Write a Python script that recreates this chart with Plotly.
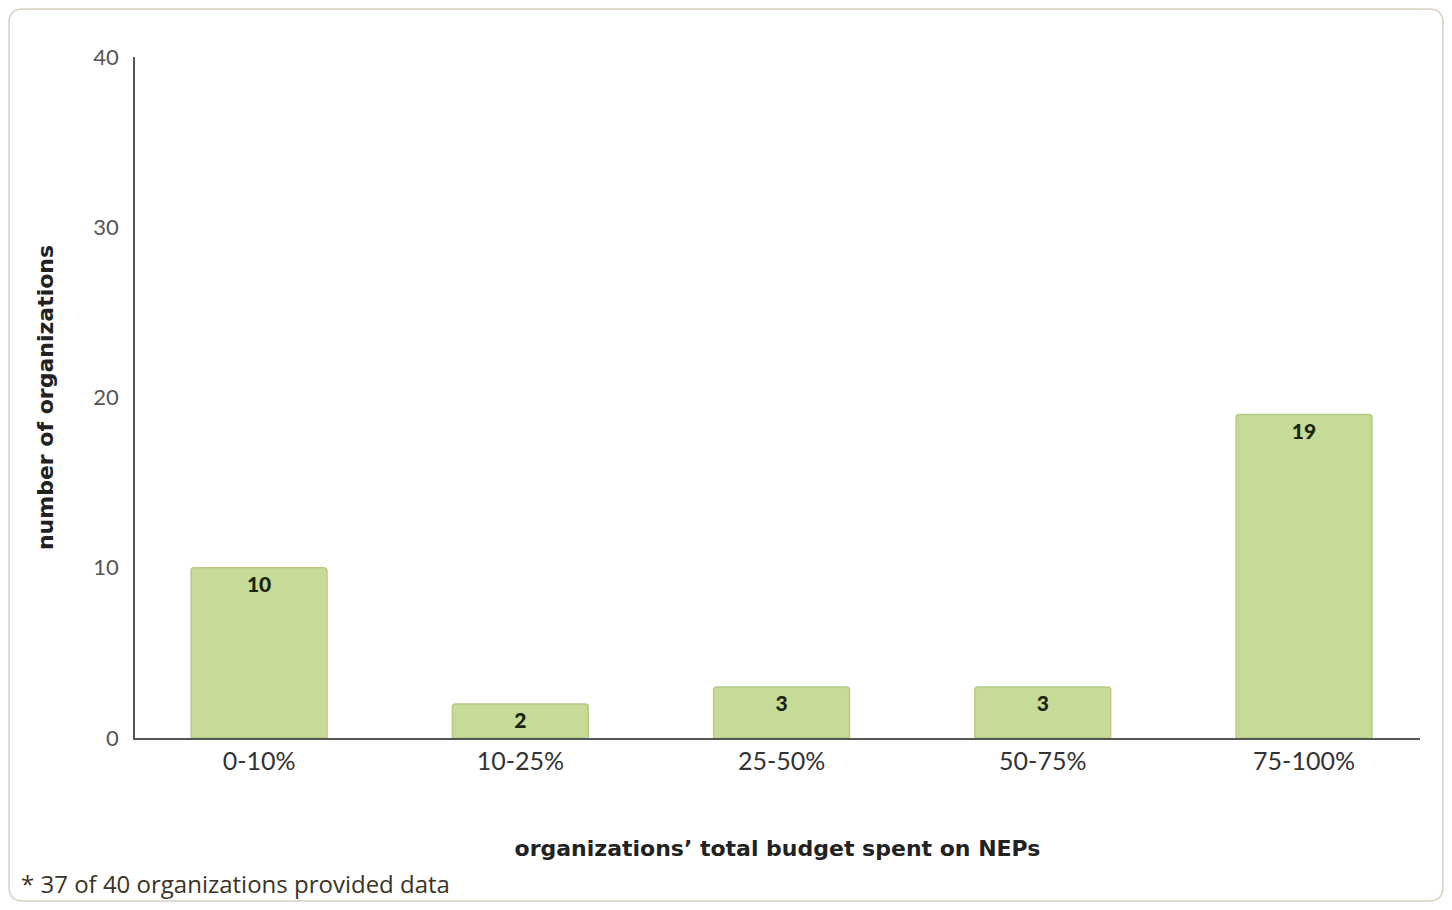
import plotly.graph_objects as go

categories = ["0-10%", "10-25%", "25-50%", "50-75%", "75-100%"]
counts = [10, 2, 3, 3, 19]
y_ticks = [0, 10, 20, 30, 40]

# page body has an 8px margin, so the figure is drawn 8px in from the window edge
OFF = 8
W, H = 1452 - 2 * OFF, 910 - 2 * OFF
L, R, T, B = 135 - OFF, 1420 - OFF, 57 - OFF, 738 - OFF
pw, ph = R - L, B - T

def px(x):
    return (x - OFF - L) / pw

def py(y):
    return (B - (y - OFF)) / ph

fig = go.Figure()
fig.add_trace(go.Bar(
    x=categories, y=counts,
    marker=dict(color="#c6db97", line=dict(color="#b5cc83", width=1.5), cornerradius=3),
    width=0.52,
    text=[str(v) for v in counts],
    textposition="inside", insidetextanchor="end", textangle=0,
    constraintext="none",
    textfont=dict(family="Lato", size=21, color="#1a2410", weight=900),
    hoverinfo="skip",
))

# rounded border around the whole card
x0, x1, y0, y1, r = 9, 1443, 9, 901, 14
def P(x, y):
    return f"{px(x):.5f},{py(y):.5f}"
path = (f"M {P(x0 + r, y0)} L {P(x1 - r, y0)} Q {P(x1, y0)} {P(x1, y0 + r)} "
        f"L {P(x1, y1 - r)} Q {P(x1, y1)} {P(x1 - r, y1)} "
        f"L {P(x0 + r, y1)} Q {P(x0, y1)} {P(x0, y1 - r)} "
        f"L {P(x0, y0 + r)} Q {P(x0, y0)} {P(x0 + r, y0)} Z")
fig.add_shape(type="path", path=path, xref="paper", yref="paper",
              line=dict(color="#d9d0c0", width=1.5), layer="below")

fig.add_annotation(text="* 37 of 40 organizations provided data",
                   xref="paper", yref="paper", x=px(19), y=py(884),
                   xanchor="left", yanchor="middle", showarrow=False,
                   font=dict(family="Open Sans", size=24, color="#3b3323"))

fig.update_layout(
    width=W, height=H,
    margin=dict(l=L, r=W - R, t=T, b=H - B),
    paper_bgcolor="white", plot_bgcolor="white",
    showlegend=False,
    xaxis=dict(
        range=[-0.475, 4.444],
        showline=True, linecolor="#555555", linewidth=1.5,
        ticks="", showgrid=False, zeroline=False,
        tickfont=dict(family="Lato", size=25, color="#333333"),
        title=dict(text="organizations\u2019 total budget spent on NEPs",
                   font=dict(family="DejaVu Sans", size=22, color="#222222", weight="bold"),
                   standoff=67),
    ),
    yaxis=dict(
        range=[0, 40], tickvals=y_ticks,
        showline=True, linecolor="#555555", linewidth=1.5,
        ticks="", showgrid=False, zeroline=False,
        tickfont=dict(family="Lato", size=22, color="#555555"),
        ticklabelstandoff=10,
        title=dict(text="number of organizations",
                   font=dict(family="DejaVu Sans", size=22, color="#222222", weight="bold"),
                   standoff=34),
    ),
)

fig.write_html("out.html")
